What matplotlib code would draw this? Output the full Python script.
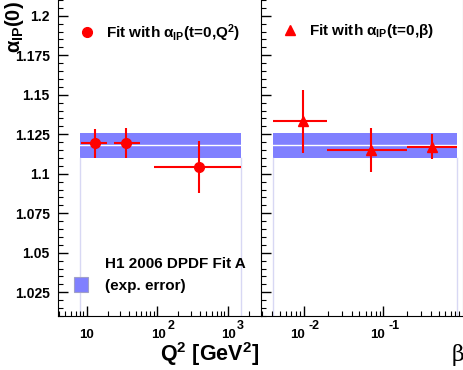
"""Pomeron intercept from fits in Q2 and beta bins, H1 style."""

import numpy as np
import matplotlib
matplotlib.use('Agg')
import matplotlib.pyplot as plt
from matplotlib.patches import Rectangle
from matplotlib.ticker import FixedLocator, NullFormatter, MultipleLocator, LogLocator

# =============================================================================
# Data
# =============================================================================
Q2 = [13.1, 36.0, 398.0]
Q2_LO = [8.3, 24.6, 90.0]
Q2_HI = [19.5, 58.0, 1550.0]
ALPHA_Q2 = [1.1192, 1.1192, 1.1042]
ERR_Q2 = [0.0090, 0.0095, 0.0166]

BETA = [0.0097, 0.070, 0.41]
BETA_LO = [0.0041, 0.0195, 0.20]
BETA_HI = [0.0195, 0.20, 0.85]
ALPHA_BETA = [1.1332, 1.1150, 1.1171]
ERR_BETA = [0.0199, 0.0140, 0.0078]

FIT_VAL = 1.118
FIT_ERR = 0.0079
Q2_RANGE = [8.1, 1550.0]
BETA_RANGE = [0.0041, 0.85]

Y_TICKS = [1.025, 1.05, 1.075, 1.1, 1.125, 1.15, 1.175, 1.2]
Y_TICKLABELS = ['1.025', '1.05', '1.075', '1.1', '1.125', '1.15', '1.175', '1.2']
Q2_TICKS = [10, 100, 1000]
Q2_EXPONENTS = ['', '2', '3']
BETA_TICKS = [0.01, 0.1]
BETA_EXPONENTS = ['-2', '-1']

# =============================================================================
# Style
# =============================================================================
plt.rcParams['font.family'] = 'Liberation Sans'
plt.rcParams['font.weight'] = 'bold'
plt.rcParams['mathtext.fontset'] = 'custom'
plt.rcParams['mathtext.rm'] = 'Liberation Sans:bold'
plt.rcParams['mathtext.bf'] = 'Liberation Sans:bold'
plt.rcParams['mathtext.it'] = 'Liberation Sans:bold'

RED = '#ff0000'
BAND = '#8080ff'
EDGE = '#d8d8f4'
W, H = 464, 370

fig = plt.figure(figsize=(W / 100, H / 100), dpi=100)
ax1 = fig.add_axes([58 / W, 1 - 316 / H, (261 - 58) / W, 316 / H])
ax2 = fig.add_axes([261 / W, 1 - 316 / H, (463 - 261) / W, 316 / H])


def draw_panel(ax, x, lo, hi, y, err, xrange_, marker, label):
    ax.set_xscale('log')
    ax.set_ylim(1.01, 1.21)
    # fit band
    ax.add_patch(Rectangle((xrange_[0], FIT_VAL - FIT_ERR), xrange_[1] - xrange_[0],
                           2 * FIT_ERR, facecolor=BAND, edgecolor='none', zorder=1))
    ax.plot(xrange_, [FIT_VAL, FIT_VAL], color='white', linewidth=1.0, zorder=2)
    for xe in xrange_:
        ax.plot([xe, xe], [1.01, FIT_VAL - FIT_ERR], color=EDGE, linewidth=1.0, zorder=1)
    # points
    x = np.array(x)
    xerr = [x - np.array(lo), np.array(hi) - x]
    ax.errorbar(x, y, xerr=xerr, yerr=err, fmt=marker, color=RED, ecolor=RED,
                markersize=7, elinewidth=1.5, capsize=0, zorder=3)
    ax.plot([], [], marker, color=RED, markersize=7, label=label)
    ax.yaxis.set_major_locator(FixedLocator(Y_TICKS))
    ax.yaxis.set_minor_locator(MultipleLocator(0.005))
    ax.xaxis.set_minor_locator(LogLocator(base=10, subs=np.arange(2, 10)))
    ax.xaxis.set_minor_formatter(NullFormatter())
    ax.tick_params(which='both', direction='in', top=False, right=False)
    ax.tick_params(axis='y', labelsize=10, pad=6)
    ax.tick_params(which='major', length=7, width=1)
    ax.tick_params(which='minor', length=3.5, width=0.8)
    ax.spines['top'].set_visible(False)
    ax.legend(loc='upper left', bbox_to_anchor=(0.07, 0.95), frameon=False,
              fontsize=11, handletextpad=0.6, handlelength=1.2, borderaxespad=0)


def log_labels(ax, ticks, exps, dx):
    # ROOT style "10" with raised exponent, drawn as plain texts
    ax.set_xticks(ticks)
    ax.set_xticklabels([])
    for t, e, d in zip(ticks, exps, dx):
        ax.annotate('10', xy=(t, 0), xycoords=('data', 'axes fraction'),
                    xytext=(d, -22), textcoords='offset pixels',
                    ha='center', va='baseline', fontsize=9.5)
        if e:
            ax.annotate(e, xy=(t, 0), xycoords=('data', 'axes fraction'),
                        xytext=(d + 9 + (2 if e.startswith('-') else 0), -13),
                        textcoords='offset pixels',
                        ha='left', va='baseline', fontsize=9)


draw_panel(ax1, Q2, Q2_LO, Q2_HI, ALPHA_Q2, ERR_Q2, Q2_RANGE, 'o',
           r'Fit with $\alpha_{\mathbf{IP}}$(t=0,Q$^{2}$)')
ax1.set_xlim(3.93, 2970)
log_labels(ax1, Q2_TICKS, Q2_EXPONENTS, [0, 1.5, 0.5])
ax1.set_yticklabels(Y_TICKLABELS)
ax1.spines['right'].set_visible(False)

draw_panel(ax2, BETA, BETA_LO, BETA_HI, ALPHA_BETA, ERR_BETA, BETA_RANGE, '^',
           r'Fit with $\alpha_{\mathbf{IP}}$(t=0,$\beta$)')
ax2.set_xlim(0.0029, 1.0)
log_labels(ax2, BETA_TICKS, BETA_EXPONENTS, [-6.5, -6])
ax2.set_yticklabels([])
ax2.spines['right'].set_color('#a0a0a0')

# band legend
ax1.add_patch(Rectangle((0.078, 0.076), 0.072, 0.047, transform=ax1.transAxes,
                        facecolor=BAND, edgecolor='#a0a0c8', linewidth=0.8))
ax1.text(0.23, 0.165, 'H1 2006 DPDF Fit A', transform=ax1.transAxes,
         fontsize=11, va='center', ha='left')
ax1.text(0.23, 0.095, '(exp. error)', transform=ax1.transAxes,
         fontsize=11, va='center', ha='left')

# axis titles
fig.text(15 / W, 1 - 1 / H, r'$\alpha_{\mathbf{IP}}$(0)', rotation=90,
         ha='center', va='top', fontsize=14.5)
fig.text(259 / W, 1 - 361 / H, r'Q$^{2}$ [GeV$^{2}$]', ha='right', va='baseline',
         fontsize=15.5)
fig.text(458 / W, 1 - 361 / H, 'β', ha='center', va='baseline',
         fontsize=16, fontweight='normal', family='DejaVu Serif')

fig.savefig('out.png', dpi=100)
